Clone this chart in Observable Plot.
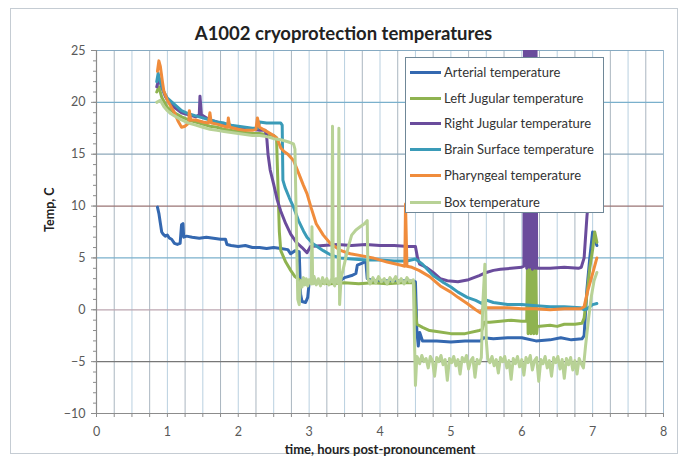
<!DOCTYPE html>
<html><head><meta charset="utf-8">
<script src="https://cdn.jsdelivr.net/npm/d3@7"></script>
<script src="https://cdn.jsdelivr.net/npm/@observablehq/plot@0.6"></script>
<style>
body{margin:0;background:#fff;font-family:Lato,"Open Sans",sans-serif;}
#wrap{position:relative;width:687px;height:460px;overflow:hidden;background:#fff;}
#border{position:absolute;left:10px;top:8px;width:668px;height:446px;border:1px solid #c5ccd3;box-sizing:border-box;}
#title{position:absolute;left:0;top:22px;width:687px;text-align:center;font-weight:bold;font-size:18.5px;line-height:22px;color:#222;}
#chart{position:absolute;left:0;top:45px;}
#legend{position:absolute;left:405px;top:57px;width:199px;height:156px;border:1.5px solid #6f8797;background:#fff;box-sizing:border-box;}
.item{position:absolute;left:4px;height:14px;display:flex;align-items:center;font-size:13px;color:#333;white-space:nowrap;}
.swatch{width:31px;height:3px;margin-right:3px;}
</style></head>
<body>
<div id="wrap">
  <div id="border"></div>
  <div id="title"></div>
  <div id="chart"></div>
  <div id="legend"></div>
</div>
<script>
const titleText = "A1002 cryoprotection temperatures";
const xLabel = "time, hours post-pronouncement";
const yLabel = "Temp, C";
const seriesNames = ["Arterial temperature","Left Jugular temperature","Right Jugular temperature","Brain Surface temperature","Pharyngeal temperature","Box temperature"];
const xTicks = [0,1,2,3,4,5,6,7,8];
const yTicks = [-10,-5,0,5,10,15,20,25];

const arterial = [[0.86,9.9],[0.88,9.3],[0.9,8.4],[0.92,7.5],[0.94,7.3],[0.97,7.1],[1.0,7.2],[1.03,6.9],[1.06,6.8],[1.1,6.4],[1.14,6.3],[1.18,6.4],[1.2,8.2],[1.22,8.3],[1.23,7.0],[1.27,7.1],[1.35,7.0],[1.45,6.9],[1.55,7.0],[1.65,6.9],[1.75,6.8],[1.82,6.8],[1.84,6.3],[1.9,6.2],[2.0,6.1],[2.1,6.2],[2.2,6.0],[2.3,6.0],[2.4,5.9],[2.5,6.0],[2.6,5.9],[2.7,5.8],[2.74,5.4],[2.8,5.7],[2.86,5.6],[2.88,1.5],[2.9,0.8],[2.95,0.7],[2.98,1.2],[3.0,2.6],[3.1,2.6],[3.2,2.7],[3.3,2.6],[3.44,2.8],[3.5,3.1],[3.6,3.3],[3.66,3.5],[3.68,4.3],[3.75,4.5],[3.8,4.7],[3.82,3.0],[3.9,2.8],[4.0,2.8],[4.2,2.8],[4.4,2.8],[4.5,2.7],[4.52,-2.0],[4.54,-3.5],[4.56,-2.2],[4.6,-3.0],[4.8,-3.0],[5.0,-3.1],[5.2,-3.0],[5.42,-3.0],[5.46,-2.7],[5.6,-2.8],[5.8,-2.7],[6.0,-2.7],[6.2,-3.0],[6.4,-2.9],[6.55,-2.7],[6.7,-2.9],[6.85,-2.8],[6.88,-2.5],[6.92,2.0],[6.96,5.0],[7.0,7.5],[7.03,6.8],[7.06,6.2]];

const leftJugular = [[0.85,21.0],[0.88,21.5],[0.92,20.5],[1.0,19.5],[1.1,19.0],[1.2,18.6],[1.3,18.3],[1.4,18.1],[1.5,17.9],[1.6,17.7],[1.7,17.6],[1.8,17.4],[1.9,17.3],[2.0,17.2],[2.1,17.1],[2.2,17.0],[2.3,17.0],[2.4,16.9],[2.5,16.8],[2.54,16.6],[2.56,12.0],[2.58,7.5],[2.6,5.7],[2.67,4.6],[2.74,3.8],[2.8,3.2],[2.88,2.8],[2.95,2.6],[3.1,2.6],[3.3,2.5],[3.5,2.6],[3.7,2.5],[3.9,2.6],[4.1,2.5],[4.3,2.6],[4.48,2.6],[4.5,0.0],[4.52,-1.4],[4.6,-1.7],[4.7,-2.0],[4.8,-2.1],[5.0,-2.3],[5.2,-2.3],[5.4,-2.0],[5.44,-1.9],[5.47,-1.2],[5.55,-1.2],[5.7,-1.1],[5.85,-1.0],[6.0,-1.1],[6.07,-1.1],[6.08,4.0],[6.09,-2.3],[6.10,4.0],[6.11,-2.2],[6.12,4.0],[6.13,-2.3],[6.14,4.0],[6.15,-2.2],[6.16,4.0],[6.17,-2.3],[6.18,4.0],[6.19,-2.2],[6.20,4.0],[6.21,-2.3],[6.22,-1.6],[6.4,-1.5],[6.5,-1.6],[6.6,-1.4],[6.75,-1.4],[6.85,-1.3],[6.88,-0.8],[6.92,1.5],[6.96,4.0],[7.0,5.8],[7.03,7.5],[7.06,6.5]];

const rightJugular = [[0.85,21.5],[0.88,22.3],[0.92,21.5],[0.97,20.6],[1.02,20.0],[1.1,19.5],[1.2,19.0],[1.3,18.8],[1.4,18.6],[1.45,18.8],[1.46,20.6],[1.48,18.8],[1.6,18.3],[1.7,18.1],[1.8,17.9],[1.9,17.7],[2.0,17.6],[2.1,17.5],[2.2,17.4],[2.3,17.3],[2.38,17.3],[2.4,16.8],[2.42,15.0],[2.45,13.5],[2.5,12.1],[2.55,10.6],[2.6,9.5],[2.67,8.3],[2.74,7.3],[2.82,6.5],[2.9,6.0],[2.97,5.5],[3.02,6.1],[3.2,6.2],[3.4,6.3],[3.6,6.2],[3.8,6.3],[4.0,6.2],[4.2,6.2],[4.4,6.1],[4.5,6.1],[4.53,5.0],[4.56,4.4],[4.65,4.1],[4.75,3.6],[4.85,3.0],[4.95,2.8],[5.1,2.7],[5.25,2.9],[5.4,3.3],[5.5,3.6],[5.6,3.8],[5.7,3.9],[5.85,4.0],[6.0,4.1],[6.03,4.2],[6.04,30],[6.05,4.6],[6.06,30],[6.07,4.0],[6.08,30],[6.09,4.4],[6.10,30],[6.11,4.1],[6.12,30],[6.13,4.5],[6.14,30],[6.15,3.9],[6.16,30],[6.17,4.3],[6.18,30],[6.19,4.0],[6.20,30],[6.21,4.2],[6.22,4.0],[6.4,4.0],[6.6,4.1],[6.8,4.0],[6.84,4.1],[6.88,5.0],[6.92,9.0],[6.96,12.0],[7.0,14.0],[7.04,11.0],[7.08,9.5]];

const brainSurface = [[0.85,22.0],[0.87,22.8],[0.9,22.0],[0.95,21.0],[1.0,20.4],[1.1,19.8],[1.2,19.2],[1.3,18.9],[1.4,18.7],[1.5,18.5],[1.6,18.3],[1.7,18.1],[1.8,18.0],[1.9,17.8],[2.0,17.7],[2.1,17.6],[2.2,17.5],[2.28,17.5],[2.3,18.1],[2.4,18.0],[2.5,18.0],[2.6,18.0],[2.62,17.8],[2.63,12.5],[2.66,11.8],[2.72,10.8],[2.78,9.9],[2.85,8.6],[2.92,7.6],[2.97,7.0],[3.05,6.4],[3.2,5.7],[3.3,5.3],[3.44,5.0],[3.6,4.9],[3.8,4.8],[4.0,4.8],[4.2,4.7],[4.38,4.7],[4.5,4.9],[4.6,4.4],[4.75,3.3],[4.9,2.6],[5.0,2.2],[5.1,1.7],[5.23,1.2],[5.35,0.9],[5.44,0.6],[5.47,1.0],[5.6,0.7],[5.8,0.5],[6.0,0.5],[6.2,0.4],[6.4,0.3],[6.6,0.3],[6.83,0.2],[6.88,0.0],[6.92,0.1],[6.96,0.3],[7.0,0.5],[7.06,0.6]];

const pharyngeal = [[0.86,23.0],[0.88,24.0],[0.9,23.5],[0.93,22.0],[0.95,21.1],[1.0,20.2],[1.05,19.6],[1.1,19.0],[1.15,18.2],[1.2,17.6],[1.25,17.7],[1.3,18.0],[1.31,19.2],[1.33,18.3],[1.4,18.3],[1.5,18.1],[1.58,18.0],[1.6,19.0],[1.62,18.0],[1.7,17.9],[1.8,17.7],[1.85,17.6],[1.86,18.5],[1.88,17.6],[2.0,17.4],[2.1,17.3],[2.2,17.3],[2.25,17.4],[2.27,18.5],[2.3,17.6],[2.4,17.2],[2.5,16.8],[2.55,16.5],[2.6,15.6],[2.64,15.3],[2.7,15.0],[2.78,14.4],[2.85,13.2],[2.92,12.0],[2.97,11.2],[3.03,9.8],[3.1,8.3],[3.2,7.2],[3.3,6.4],[3.45,5.7],[3.58,5.4],[3.75,5.2],[3.9,5.0],[4.1,4.6],[4.3,4.3],[4.35,4.2],[4.36,10.2],[4.38,4.2],[4.45,4.1],[4.55,3.8],[4.7,3.2],[4.85,2.3],[5.0,1.7],[5.1,1.2],[5.23,0.6],[5.35,0.0],[5.42,-0.3],[5.46,0.2],[5.6,0.2],[5.8,0.2],[6.0,0.1],[6.2,0.1],[6.4,0.0],[6.6,0.1],[6.83,0.1],[6.88,0.3],[6.93,1.8],[6.98,3.0],[7.02,4.0],[7.06,5.0]];

const box = [[0.85,20.0],[0.9,20.2],[0.95,19.6],[1.0,19.2],[1.05,18.9],[1.1,18.7],[1.2,18.3],[1.3,18.0],[1.4,17.8],[1.5,17.6],[1.6,17.4],[1.7,17.3],[1.8,17.2],[1.9,17.1],[2.0,17.0],[2.1,16.9],[2.2,16.8],[2.3,16.8],[2.4,16.7],[2.5,16.5],[2.6,16.4],[2.7,16.2],[2.78,16.0],[2.8,15.5],[2.82,8.0],[2.84,1.0],[2.86,0.5],[2.88,2.8],[2.9,2.2],[2.92,3.1],[2.94,2.4],[2.96,3.0],[2.98,2.3],[3.0,2.9],[3.03,2.5],[3.04,8.0],[3.05,2.5],[3.07,3.2],[3.1,2.4],[3.13,3.0],[3.16,2.3],[3.19,3.1],[3.22,2.5],[3.25,3.0],[3.28,2.4],[3.31,2.9],[3.32,2.7],[3.33,17.7],[3.34,2.8],[3.36,2.3],[3.38,3.0],[3.41,2.6],[3.42,17.5],[3.43,0.5],[3.45,3.0],[3.5,4.5],[3.55,6.0],[3.6,7.2],[3.66,7.7],[3.72,8.0],[3.78,8.3],[3.82,8.6],[3.83,3.0],[3.86,2.5],[3.9,3.1],[3.94,2.6],[3.98,3.2],[4.02,2.7],[4.06,3.0],[4.1,2.5],[4.14,3.1],[4.18,2.7],[4.22,3.2],[4.26,2.6],[4.3,3.0],[4.34,2.5],[4.38,3.1],[4.42,2.7],[4.47,2.9],[4.49,-4.0],[4.5,-7.3],[4.52,-4.5],[4.53,-4.6],[4.56,-5.2],[4.59,-4.4],[4.62,-5.0],[4.65,-4.7],[4.68,-5.6],[4.71,-4.5],[4.74,-4.9],[4.77,-6.4],[4.8,-4.6],[4.83,-5.0],[4.86,-4.4],[4.89,-5.3],[4.92,-4.8],[4.95,-6.8],[4.98,-4.7],[5.01,-5.1],[5.04,-4.5],[5.07,-5.4],[5.1,-4.8],[5.13,-6.2],[5.16,-4.6],[5.19,-5.0],[5.22,-4.4],[5.25,-5.7],[5.28,-4.9],[5.31,-4.6],[5.34,-6.5],[5.37,-4.8],[5.4,-5.2],[5.43,-4.6],[5.45,0.5],[5.48,4.4],[5.5,-3.0],[5.52,-4.7],[5.55,-5.1],[5.58,-4.5],[5.61,-5.4],[5.64,-4.8],[5.67,-6.1],[5.7,-4.6],[5.73,-5.0],[5.76,-4.5],[5.79,-5.6],[5.82,-4.9],[5.85,-6.7],[5.88,-4.7],[5.91,-5.2],[5.94,-4.5],[5.97,-5.5],[6.0,-4.8],[6.03,-6.3],[6.06,-4.6],[6.09,-5.1],[6.12,-4.4],[6.15,-5.8],[6.18,-4.9],[6.21,-4.6],[6.24,-6.9],[6.27,-4.8],[6.3,-5.2],[6.33,-4.5],[6.36,-5.6],[6.39,-4.9],[6.42,-6.4],[6.45,-4.6],[6.48,-5.1],[6.51,-4.5],[6.54,-5.7],[6.57,-4.8],[6.6,-6.6],[6.63,-4.7],[6.66,-5.3],[6.69,-4.6],[6.72,-5.8],[6.75,-4.9],[6.78,-6.2],[6.81,-4.7],[6.84,-5.2],[6.87,-5.6],[6.9,-3.5],[6.94,-1.0],[6.98,1.2],[7.02,2.8],[7.06,3.6]];

// styles
const seriesData = [arterial, leftJugular, rightJugular, brainSurface, pharyngeal, box];
const seriesColors = ["#3468b0","#8fb350","#6a4c9c","#3a9bb8","#f08c3c","#b8d296"];
const fontFamily = "Lato, 'Open Sans', sans-serif";
const yGrid = [20,15,10,5,0,-5];
const yGridColors = ["#7ab0cc","#8ea8ba","#9a7474","#7ab0cc","#bca6b0","#777777"];
const xGrid = d3.range(1, 32).map(i => i / 4);
const xMinor = d3.range(0, 33).map(i => i / 4);
const yMinor = d3.range(-10, 26, 1);

document.getElementById("title").textContent = titleText;

const marks = [];
xGrid.forEach(v => marks.push(Plot.ruleX([v], {stroke: (v * 4) % 2 === 1 ? "#aab6c0" : "#b9d0e0", strokeWidth: 1})));
yGrid.forEach((v, i) => marks.push(Plot.ruleY([v], {stroke: yGridColors[i], strokeWidth: 1.2})));
marks.push(Plot.ruleY([25], {stroke: "#86aac2", strokeWidth: 1.2}));
marks.push(Plot.ruleX([8], {stroke: "#9cb8cc", strokeWidth: 1}));
marks.push(Plot.ruleY([-10], {stroke: "#8c8c8c", strokeWidth: 1.2}));
marks.push(Plot.ruleX([0], {stroke: "#8c8c8c", strokeWidth: 1.2}));
marks.push(Plot.axisY({ticks: yMinor, tickSize: 3, tickFormat: () => "", stroke: "#8c8c8c", label: null}));
marks.push(Plot.axisY({ticks: yTicks, tickSize: 5, tickPadding: 6, stroke: "#8c8c8c", fill: "#595959", fontSize: 12.5, label: null}));
marks.push(Plot.axisX({ticks: xMinor, tickSize: 4, tickFormat: () => "", stroke: "#8c8c8c", label: null}));
marks.push(Plot.axisX({ticks: xTicks, tickSize: 0, tickPadding: 14, fill: "#595959", fontSize: 12.5, label: null}));
seriesData.forEach((s, i) => marks.push(Plot.line(s, {x: d => d[0], y: d => d[1], stroke: seriesColors[i], strokeWidth: 3, clip: true, strokeLinejoin: "round"})));
marks.push(Plot.text([xLabel], {text: d => d, frameAnchor: "bottom", dy: 40, fontWeight: "bold", fontSize: 13, fill: "#222"}));
marks.push(Plot.text([yLabel], {text: d => d, frameAnchor: "left", dx: -47, rotate: -90, fontWeight: "bold", fontSize: 12.5, fill: "#222"}));

const chart = Plot.plot({
  width: 687, height: 415,
  marginLeft: 96, marginRight: 24, marginTop: 5, marginBottom: 47,
  style: {fontFamily, fontSize: "12px", color: "#595959", background: "transparent", overflow: "visible"},
  x: {domain: [0, 8]},
  y: {domain: [-10, 25]},
  marks
});
document.getElementById("chart").appendChild(chart);

const legend = document.getElementById("legend");
const rowCenters = [14, 40, 65, 91, 117, 144];
seriesNames.forEach((name, i) => {
  const item = document.createElement("div");
  item.className = "item";
  item.style.top = (rowCenters[i] - 7) + "px";
  const sw = document.createElement("div");
  sw.className = "swatch";
  sw.style.background = seriesColors[i];
  const tx = document.createElement("span");
  tx.textContent = name;
  item.appendChild(sw); item.appendChild(tx);
  legend.appendChild(item);
});
</script>
</body></html>
